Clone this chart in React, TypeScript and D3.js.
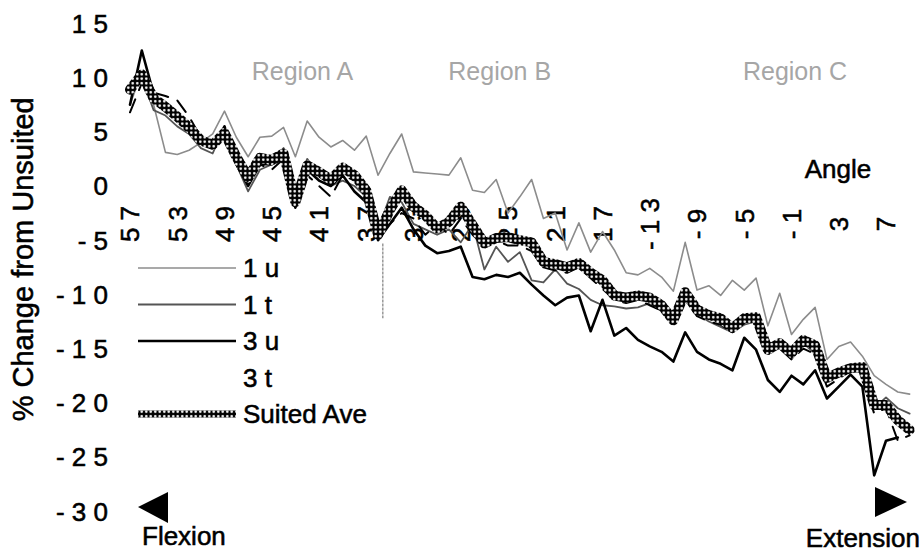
import React from "react";
import * as d3 from "d3";

const angles = [57,56,55,54,53,52,51,50,49,48,47,46,45,44,43,42,41,40,39,38,37,36,35,34,33,32,31,30,29,28,27,26,25,24,23,22,21,20,19,18,17,16,15,14,13,12,11,10,9,8,7,6,5,4,3,2,1,0,-1,-2,-3,-4,-5,-6,-7,-8,-9];

const tickAngles = [57,53,49,45,41,37,33,29,25,21,17,13,9,5,1,-3,-7];
const tickLabels = ["5 7","5 3","4 9","4 5","4 1","3 7","3 3","2 9","2 5","2 1","1 7","- 1 3","- 9","- 5","- 1","3","7"];

const yTicks = [15,10,5,0,-5,-10,-15,-20,-25,-30];
const yTickLabels = ["1 5","1 0","5","0","- 5","- 1 0","- 1 5","- 2 0","- 2 5","- 3 0"];

const s1u = [7.5,10.5,7.5,3.1,2.9,3.3,4.0,4.8,6.9,4.5,2.7,4.5,4.6,5.4,2.7,6.0,4.5,3.6,4.2,3.3,4.6,1.0,3.0,4.8,1.3,1.2,1.1,1.0,2.6,-0.4,-0.6,0.6,-2.5,-1.0,0.6,-3.0,-2.5,-5.9,-3.4,-6.1,-4.2,-5.9,-8.0,-8.2,-7.6,-8.4,-9.7,-5.2,-9.6,-9.2,-10.1,-8.7,-9.6,-8.5,-12.9,-9.9,-13.7,-12.3,-11.2,-16.0,-14.8,-14.4,-15.7,-17.5,-18.3,-19.0,-19.2];
const s1t = [8.5,10.0,7.0,6.5,5.5,4.8,3.5,3.0,5.5,2.0,-0.5,1.5,2.0,3.5,-0.5,2.5,1.0,0.0,0.5,0.0,-1.0,-4.0,-1.0,-1.5,-3.5,-4.0,-4.5,-4.0,-5.2,-3.5,-7.7,-5.6,-7.0,-6.1,-8.7,-8.9,-7.7,-9.0,-9.5,-10.5,-11.0,-11.1,-11.3,-11.2,-10.8,-11.5,-12.0,-10.5,-11.8,-12.5,-13.0,-13.5,-12.8,-12.5,-15.5,-14.8,-16.0,-14.5,-15.5,-18.0,-17.5,-17.0,-17.2,-20.5,-19.5,-20.5,-21.0];
const s3u = [7.5,12.5,8.5,7.0,6.0,5.0,4.0,3.5,5.5,2.0,0.0,2.0,2.0,2.5,-2.0,1.5,0.5,0.0,1.0,-0.5,-1.5,-5.0,-3.5,-2.0,-4.0,-5.5,-6.2,-6.0,-5.6,-8.4,-8.6,-8.2,-8.4,-8.0,-9.1,-10.1,-11.0,-10.3,-10.1,-13.4,-10.5,-13.8,-13.1,-14.2,-14.8,-15.3,-16.2,-13.5,-15.3,-16.0,-16.4,-17.0,-14.0,-15.1,-17.9,-19.0,-17.5,-18.3,-17.0,-19.6,-18.5,-17.4,-18.5,-26.7,-23.5,-23.2,null];
const s3t = [6.8,9.5,8.6,8.3,7.9,6.4,4.5,3.5,5.0,2.5,0.5,2.0,1.5,2.5,-1.0,1.0,0.0,-1.0,1.0,0.5,-1.0,-4.5,-3.5,-2.5,-3.0,-4.5,-3.5,-4.5,-3.0,-4.5,-5.5,-5.0,-5.5,-5.5,-6.0,-7.5,-7.8,-8.0,-7.5,-8.5,-9.5,-10.5,-10.8,-10.5,-11.0,-11.5,-12.5,-10.5,-12.0,-12.5,-12.8,-13.5,-12.5,-12.8,-15.5,-15.0,-16.0,-15.0,-15.5,-18.5,-17.8,-17.0,-17.5,-21.0,-20.5,-23.5,-23.0];
const suitedAve = [8.9,10.3,8.1,7.3,6.4,5.4,4.2,3.8,4.9,2.7,0.8,2.6,2.4,3.0,-1.5,1.9,1.3,0.6,1.7,1.0,-0.4,-4.5,-2.2,-0.4,-1.9,-2.7,-3.9,-3.3,-1.9,-3.6,-5.3,-4.8,-4.7,-5.0,-5.2,-7.0,-7.2,-7.5,-7.1,-8.0,-8.7,-10.1,-10.3,-10.1,-10.3,-11.0,-12.4,-9.8,-11.4,-11.9,-12.2,-13.1,-12.2,-12.1,-15.1,-14.5,-15.4,-14.2,-14.7,-17.7,-17.2,-16.8,-16.7,-20.2,-20.2,-21.6,-22.5];

const dropLines = [{ angle: 35.6, top: -5.3, bottom: -12.2 }];

const regionNames = ["Region A", "Region B", "Region C"];
const regionAngles = [42.4, 25.7, 0.7];

const FONT = "'Liberation Sans', Arial, Helvetica, sans-serif";

type Series = { name: string; values: (number | null)[]; stroke: string; width: number; dash?: string; pattern?: boolean; legendLine: boolean };

const seriesList: Series[] = [
  { name: "1 u", values: s1u, stroke: "#8c8c8c", width: 1.6, legendLine: true },
  { name: "1 t", values: s1t, stroke: "#555555", width: 1.8, legendLine: true },
  { name: "3 u", values: s3u, stroke: "#000000", width: 2.6, legendLine: true },
  { name: "3 t", values: s3t, stroke: "#000000", width: 2, dash: "14,10", legendLine: false },
  { name: "Suited Ave", values: suitedAve, stroke: "url(#dots)", width: 10, pattern: true, legendLine: true },
];

export default function App() {
  const W = 924, H = 557;
  const x = d3.scaleLinear().domain([57, -7]).range([130, 886]);
  const y = d3.scaleLinear().domain([-30, 15]).range([511.2, 23.4]);

  const line = d3
    .line<number | null>()
    .defined((d) => d !== null)
    .x((_, i) => x(angles[i]))
    .y((d) => y(d as number));

  const legendX0 = 138, legendX1 = 236, legendY0 = 268, legendStep = 36.5;
  const heavy = { stroke: "#000", strokeWidth: 0.55 };

  return (
    <svg width={W} height={H} style={{ position: "absolute", left: 0, top: 0, display: "block", background: "#fff" }} fontFamily={FONT}>
      <defs>
        <pattern id="dots" width="4.5" height="4.5" patternUnits="userSpaceOnUse">
          <rect width="4.5" height="4.5" fill="#000" />
          <circle cx="2.25" cy="2.25" r="1.3" fill="#fff" />
        </pattern>
      </defs>
      <rect width={W} height={H} fill="#fff" />

      {/* y axis ticks */}
      {yTicks.map((t, i) => (
        <text key={"yt" + i} x={108} y={y(t)} dy="0.36em" textAnchor="end" fontSize={26} fill="#000" {...heavy}>
          {yTickLabels[i]}
        </text>
      ))}
      <text transform={`translate(33,${(y(15) + y(-30)) / 2 - 8}) rotate(-90)`} textAnchor="middle" fontSize={29} fill="#000" {...heavy}>
        % Change from Unsuited
      </text>

      {/* x tick labels */}
      {tickAngles.map((a, i) => (
        <text key={"xt" + i} transform={`translate(${x(a)},224) rotate(-90)`} dy="0.36em" textAnchor="middle" fontSize={26} fill="#000" {...heavy}>
          {tickLabels[i]}
        </text>
      ))}

      {/* region labels */}
      {regionNames.map((r, i) => (
        <text key={r} x={x(regionAngles[i])} y={80} textAnchor="middle" fontSize={25} fill="#a6a6a6">
          {r}
        </text>
      ))}
      <text x={838} y={178} textAnchor="middle" fontSize={26} fill="#000" {...heavy}>Angle</text>

      {/* drop line */}
      {dropLines.map((d, i) => (
        <line key={"dl" + i} x1={x(d.angle)} x2={x(d.angle)} y1={y(d.top)} y2={y(d.bottom)} stroke="#999" strokeWidth={1.5} strokeDasharray="3,1" />
      ))}

      {/* series */}
      {seriesList.map((s) => (
        <path key={s.name} d={line(s.values) || ""} fill="none" stroke={s.stroke} strokeWidth={s.width} strokeDasharray={s.dash} strokeLinejoin="round" strokeLinecap="round" />
      ))}

      {/* legend */}
      {seriesList.map((s, i) => {
        const ly = legendY0 + i * legendStep;
        return (
          <g key={"lg" + i}>
            {s.legendLine && (
              <line x1={legendX0} x2={legendX1} y1={ly} y2={ly} stroke={s.stroke} strokeWidth={s.pattern ? 7 : s.width} />
            )}
            <text x={243} y={ly} dy="0.36em" fontSize={26} fill="#000" {...heavy}>{s.name}</text>
          </g>
        );
      })}

      {/* direction arrows */}
      <polygon points="138,507 168,492 168,523" fill="#000" />
      <text x={142} y={545} fontSize={26} fill="#000" {...heavy}>Flexion</text>
      <polygon points="907,502 875,487 875,517" fill="#000" />
      <text x={920} y={547} textAnchor="end" fontSize={26} fill="#000" {...heavy}>Extension</text>
    </svg>
  );
}
